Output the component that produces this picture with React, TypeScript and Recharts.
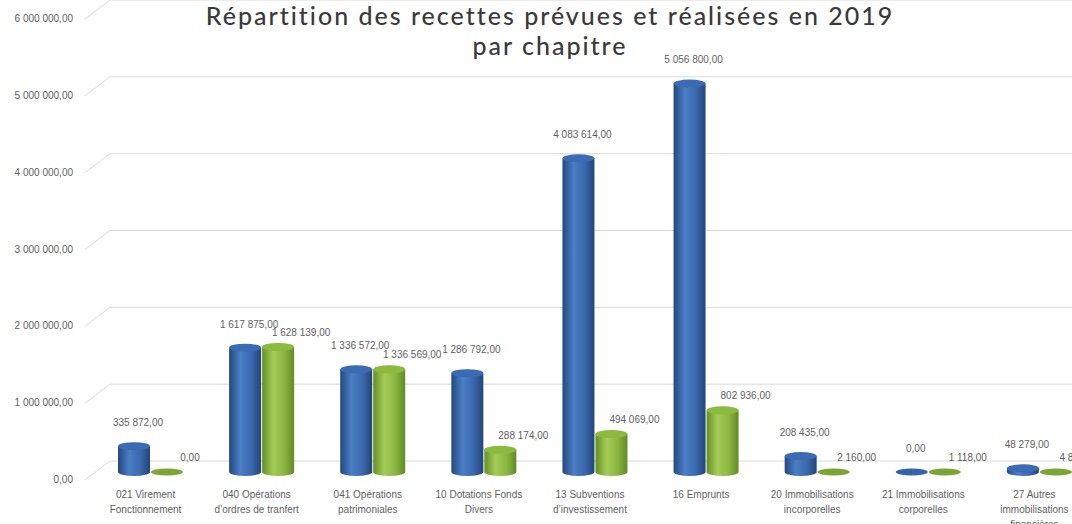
import { BarChart, Bar, XAxis, YAxis, CartesianGrid, LabelList } from 'recharts'

// chapitres budgétaires (libellés sur deux ou trois lignes)
const chapitres = [
  ['021 Virement', 'Fonctionnement'],
  ['040 Opérations', 'd\u2019ordres de tranfert'],
  ['041 Opérations', 'patrimoniales'],
  ['10 Dotations Fonds', 'Divers'],
  ['13 Subventions', 'd\u2019investissement'],
  ['16 Emprunts'],
  ['20 Immobilisations', 'incorporelles'],
  ['21 Immobilisations', 'corporelles'],
  ['27 Autres', 'immobilisations', 'financières'],
]

const prevues = [335872, 1617875, 1336572, 1286792, 4083614, 5056800, 208435, 0, 48279]
const realisees = [0, 1628139, 1336569, 288174, 494069, 802936, 2160, 1118, 4816]

const yTicks = [0, 1000000, 2000000, 3000000, 4000000, 5000000, 6000000]

const data = chapitres.map((lines, i) => ({
  name: lines.join(' '),
  prevu: prevues[i],
  realise: realisees[i],
}))

const fmt = (v: number) => {
  const [ent, dec] = v.toFixed(2).split('.')
  return ent.replace(/\B(?=(\d{3})+(?!\d))/g, ' ') + ',' + dec
}

const FONT = '"Liberation Sans", Arial, sans-serif'
const TXT = '#5f5f5f'
const GRID = '#d9d9d9'

const makeCylinder = (gradId: string, top: string, flat: string) => (p: any) => {
  const { x, y, width, height } = p
  const rx = width / 2
  const cx = x + rx
  if (!height || height < 1) {
    return <ellipse cx={cx} cy={y + (height || 0)} rx={rx} ry={3.5} fill={flat} />
  }
  const ry = 4
  const b = y + height
  return (
    <g>
      <path
        d={`M${x},${y} L${x},${b} A${rx},${ry} 0 0 0 ${x + width},${b} L${x + width},${y} Z`}
        fill={`url(#${gradId})`}
      />
      <ellipse cx={cx} cy={y} rx={rx} ry={ry} fill={top} />
    </g>
  )
}

const BlueCyl = makeCylinder('gBlue', '#3b6cb3', '#3465a8')
const GreenCyl = makeCylinder('gGreen', '#8cb93f', '#7da535')

const makeLabel = (dx: number, dy: number) => (p: any) => {
  const { x, y, width, value } = p
  return (
    <text
      x={x + width / 2 + dx}
      y={y - dy}
      textAnchor="middle"
      fontSize={10}
      fontFamily={FONT}
      fill={TXT}
    >
      {fmt(Number(value))}
    </text>
  )
}

const YTick = (p: any) => (
  <text x={p.x} y={p.y + 11} textAnchor="end" fontSize={10} fontFamily={FONT} fill={TXT}>
    {fmt(p.payload.value)}
  </text>
)

const XTick = (p: any) => {
  const lines = chapitres[p.index] || [p.payload.value]
  return (
    <text x={p.x - 5} y={p.y} textAnchor="middle" fontSize={10} fontFamily={FONT} fill={TXT}>
      {lines.map((l, i) => (
        <tspan key={i} x={p.x - 5} y={p.y + 26 + i * 15}>
          {l}
        </tspan>
      ))}
    </text>
  )
}

// lignes de quadrillage façon paroi 3D
const gridLine = (p: any) => {
  const { x1, x2, y1, index } = p
  return (
    <g key={`gl-${index}-${y1}`}>
      <line x1={x1 - 10} y1={y1 + 8} x2={x1 + 15} y2={y1 - 11} stroke={GRID} />
      <line x1={x1 + 15} y1={y1 - 11} x2={x2 + 10} y2={y1 - 11} stroke={GRID} />
    </g>
  )
}

export default function App() {
  return (
    <div
      style={{
        position: 'absolute',
        left: 0,
        top: 0,
        width: 1072,
        height: 524,
        overflow: 'hidden',
        background: '#fff',
      }}
    >
      <BarChart
        width={1100}
        height={524}
        data={data}
        margin={{ top: 11, right: 5, bottom: 0, left: 0 }}
        barSize={32}
        barGap={1}
      >
        <defs>
          <linearGradient id="gBlue" x1="0" y1="0" x2="1" y2="0">
            <stop offset="0%" stopColor="#24487f" />
            <stop offset="35%" stopColor="#4a7ec6" />
            <stop offset="70%" stopColor="#3a68ad" />
            <stop offset="100%" stopColor="#234579" />
          </linearGradient>
          <linearGradient id="gGreen" x1="0" y1="0" x2="1" y2="0">
            <stop offset="0%" stopColor="#668f26" />
            <stop offset="35%" stopColor="#a4cd57" />
            <stop offset="70%" stopColor="#8ab540" />
            <stop offset="100%" stopColor="#628a24" />
          </linearGradient>
        </defs>
        <CartesianGrid vertical={false} horizontal={gridLine} />
        <XAxis
          dataKey="name"
          interval={0}
          axisLine={false}
          tickLine={false}
          tickSize={0}
          tickMargin={0}
          height={52}
          tick={<XTick />}
        />
        <YAxis
          domain={[0, 6000000]}
          ticks={yTicks}
          axisLine={false}
          tickLine={false}
          tickSize={0}
          tickMargin={22}
          width={95}
          tick={<YTick />}
        />
        <Bar dataKey="prevu" shape={BlueCyl} isAnimationActive={false}>
          <LabelList dataKey="prevu" content={makeLabel(4, 20)} />
        </Bar>
        <Bar dataKey="realise" shape={GreenCyl} isAnimationActive={false}>
          <LabelList dataKey="realise" content={makeLabel(23, 11)} />
        </Bar>
      </BarChart>
      <div
        style={{
          position: 'absolute',
          left: 0,
          top: 0,
          width: 1100,
          textAlign: 'center',
          fontFamily: 'Lato, "Open Sans", sans-serif',
          fontWeight: 500,
          fontSize: 25,
          lineHeight: '30px',
          letterSpacing: 2,
          color: '#3a3a3a',
          pointerEvents: 'none',
        }}
      >
        <div>Répartition des recettes prévues et réalisées en 2019</div>
        <div>par chapitre</div>
      </div>
    </div>
  )
}
